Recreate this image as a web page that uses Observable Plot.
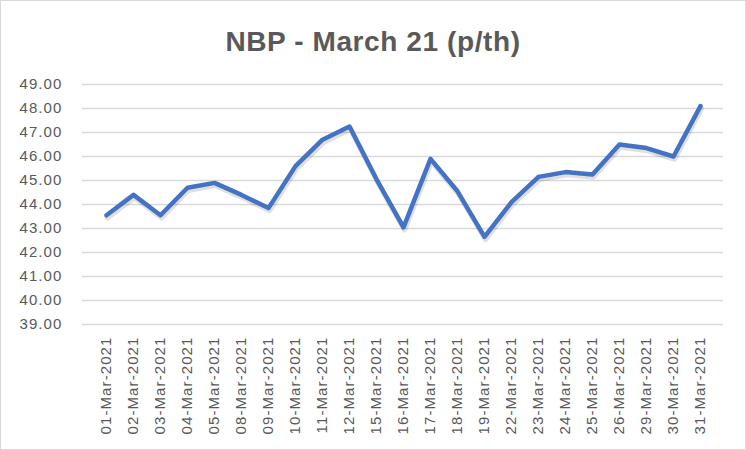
<!DOCTYPE html>
<html>
<head>
<meta charset="utf-8">
<script src="https://cdn.jsdelivr.net/npm/d3@7"></script>
<script src="https://cdn.jsdelivr.net/npm/@observablehq/plot@0.6"></script>
<style>
  html, body { margin: 0; padding: 0; background: #fff; }
  #wrap { position: relative; width: 746px; height: 450px; overflow: hidden; background: #fff; }
  #frame { position: absolute; left: 0; top: 0; width: 744px; height: 448px; border: 1px solid #d9d9d9; pointer-events: none; }
  #title { position: absolute; left: 0; top: 0; width: 746px; height: 64px; text-align: center;
           font-family: "Liberation Sans", Arial, sans-serif; font-weight: bold; font-size: 28px;
           letter-spacing: 0.6px; color: #595959; line-height: 84px; white-space: nowrap; }
  #chart { position: absolute; left: 0; top: 64px; }
  #chart svg text { letter-spacing: 1.1px; }
</style>
</head>
<body>
<div id="wrap">
  <div id="title">NBP - March 21 (p/th)</div>
  <div id="chart"></div>
  <div id="frame"></div>
</div>
<script>
const dates = ["01-Mar-2021","02-Mar-2021","03-Mar-2021","04-Mar-2021","05-Mar-2021","08-Mar-2021","09-Mar-2021","10-Mar-2021","11-Mar-2021","12-Mar-2021","15-Mar-2021","16-Mar-2021","17-Mar-2021","18-Mar-2021","19-Mar-2021","22-Mar-2021","23-Mar-2021","24-Mar-2021","25-Mar-2021","26-Mar-2021","29-Mar-2021","30-Mar-2021","31-Mar-2021"];
const prices = [43.55,44.40,43.55,44.70,44.90,44.40,43.85,45.60,46.70,47.25,45.05,43.05,45.90,44.55,42.65,44.10,45.15,45.35,45.25,46.50,46.35,46.00,48.10];
const yTicks = [39,40,41,42,43,44,45,46,47,48,49];

const data = dates.map((d, i) => ({date: d, price: prices[i]}));

const chart = Plot.plot({
  width: 746,
  height: 386,
  marginTop: 20,
  marginBottom: 126,
  marginLeft: 82,
  marginRight: 23,
  style: {fontFamily: "'Liberation Sans', Arial, sans-serif", fontSize: "15px", color: "#595959", background: "transparent"},
  x: {type: "point", domain: dates, padding: 0.5},
  y: {domain: [39, 49]},
  marks: [
    Plot.ruleY(yTicks, {stroke: "#d9d9d9", strokeWidth: 1.3}),
    Plot.axisY({ticks: yTicks, tickSize: 0, tickPadding: 20, tickFormat: d => d.toFixed(2), label: null, fill: "#595959", fontSize: 15}),
    Plot.axisX({tickSize: 0, tickPadding: 12, tickRotate: -90, label: null, fill: "#595959", fontSize: 15}),
    Plot.line(data, {x: "date", y: "price", stroke: "#000", strokeOpacity: 0.12, strokeWidth: 5.5, dx: 1, dy: 2.5, strokeLinejoin: "round", strokeLinecap: "round"}),
    Plot.line(data, {x: "date", y: "price", stroke: "#4472c4", strokeWidth: 4.5, strokeLinejoin: "round", strokeLinecap: "round"})
  ]
});
document.getElementById("chart").appendChild(chart);
</script>
</body>
</html>
